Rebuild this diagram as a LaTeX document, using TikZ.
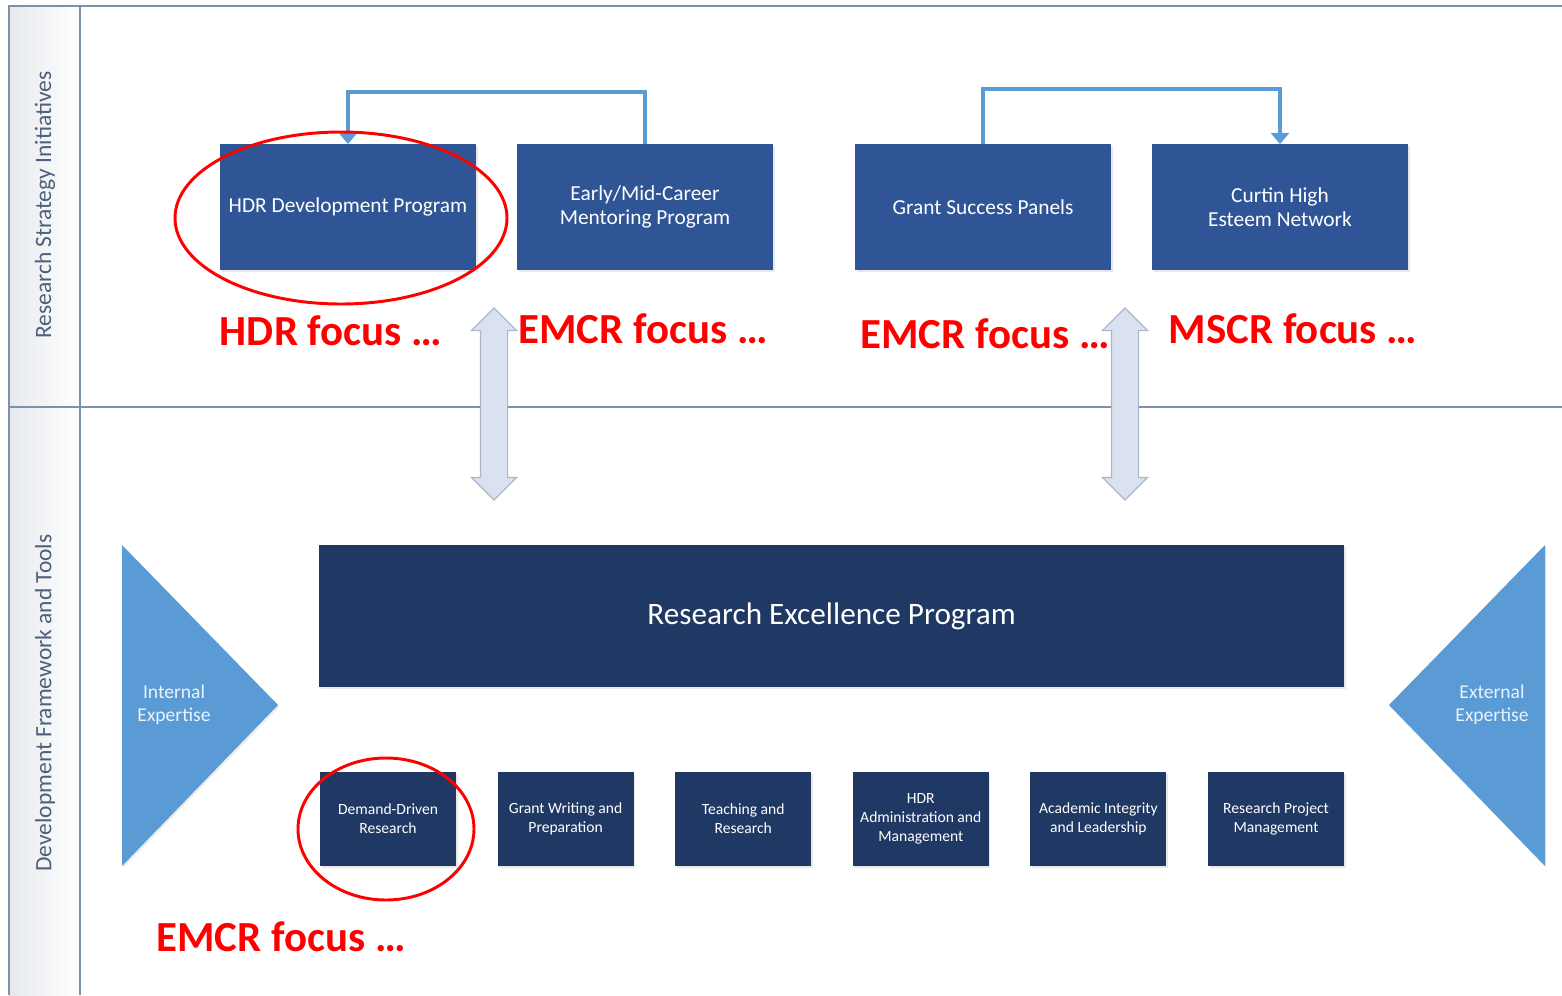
\documentclass[tikz,border=0pt]{standalone}
\usepackage{fontspec}
\setmainfont{Carlito}
\usepackage{xcolor}
\usepackage{tikz}
\usetikzlibrary{positioning,arrows.meta,shapes.arrows,shadows}

\definecolor{initblue}{RGB}{47,85,151}
\definecolor{navy}{RGB}{32,56,100}
\definecolor{skyblue}{RGB}{91,155,213}
\definecolor{laneline}{RGB}{125,145,170}
\definecolor{lanetext}{RGB}{78,96,124}
\definecolor{arrowfill}{RGB}{218,226,241}
\definecolor{arrowedge}{RGB}{172,182,202}

\begin{document}
\begin{tikzpicture}[
    initbox/.style ={fill=initblue, text=white, align=center, outer sep=0pt,
                     minimum width=6.4cm, minimum height=3.15cm, inner sep=2pt,
                     font=\fontsize{15.2}{17.5}\selectfont,
                     drop shadow={shadow xshift=0.04cm, shadow yshift=-0.06cm, opacity=0.18}},
    toolbox/.style ={fill=navy, text=white, align=center, outer sep=0pt,
                     minimum width=3.4cm, minimum height=2.35cm, inner sep=2pt,
                     font=\fontsize{11.1}{13.6}\selectfont,
                     drop shadow={shadow xshift=0.04cm, shadow yshift=-0.06cm, opacity=0.18}},
    lanetitle/.style={rotate=90, text=lanetext, font=\fontsize{16.7}{19}\selectfont},
    focus/.style   ={text=red, font=\fontsize{30.5}{34}\selectfont\bfseries},
    ring/.style    ={draw=red, line width=2.1pt},
    conn/.style    ={draw=skyblue, line width=2.8pt,
                     -{Triangle[width=13pt,length=8pt]}},
    updown/.style  ={double arrow, rotate=90, fill=arrowfill, draw=arrowedge,
                     line width=0.8pt, minimum height=4.8cm,
                     inner xsep=0pt, inner ysep=0.325cm,
                     double arrow head extend=0.225cm},
    wedge/.style   ={fill=skyblue, drop shadow={shadow xshift=0.03cm, shadow yshift=-0.05cm, opacity=0.15}},
    wedgetext/.style={text=white!88!skyblue, align=center,
                     font=\fontsize{13.9}{16.4}\selectfont}
]
\useasboundingbox (0,0) rectangle (39.05,-24.875);

% --- swim lanes ---
\shade[left color=lanetext!14, right color=white] (0.225,-0.15) rectangle (2.0,-24.875);
\draw[laneline, line width=0.9pt] (39.05,-0.15) -- (0.225,-0.15) -- (0.225,-24.875);
\draw[laneline, line width=0.9pt] (2.0,-0.15) -- (2.0,-24.875);
\draw[laneline, line width=0.9pt] (0.225,-10.175) -- (39.05,-10.175);
\node[lanetitle] (strat) at (1.125,-5.125) {Research Strategy Initiatives};
\node[lanetitle] (tools) at (1.125,-17.575) {Development Framework and Tools};

% --- top lane: initiatives ---
\node[initbox] (hdr) at (8.7,-5.175) {HDR Development Program};
\node[initbox, right=1.025cm of hdr] (emcr) {Early/Mid-Career\\Mentoring Program};
\node[initbox, right=2.05cm of emcr] (grant) {Grant Success Panels};
\node[initbox, right=1.025cm of grant] (curtin) {Curtin High\\Esteem Network};

\draw[conn] (emcr.north) -- ++(0,1.3) -| (hdr.north);
\draw[conn] (grant.north) -- ++(0,1.375) -| (curtin.north);

% --- links between the lanes ---
\node[updown] (linkl) at (12.35,-10.1) {};
\node[updown] (linkr) at (28.125,-10.1) {};

% --- bottom lane: framework ---
\node[fill=navy, text=white, minimum width=25.625cm, minimum height=3.55cm,
      font=\fontsize{22.2}{26}\selectfont,
      drop shadow={shadow xshift=0.04cm, shadow yshift=-0.06cm, opacity=0.18}]
      (rep) at (20.79,-15.4) {Research Excellence Program};

\node[toolbox] (demand) at (9.7,-20.475) {Demand-Driven\\Research};
\node[toolbox, right=1.04cm of demand] (writing) {Grant Writing and\\Preparation};
\node[toolbox, right=1.04cm of writing] (teaching) {Teaching and\\Research};
\node[toolbox, right=1.04cm of teaching] (admin) {HDR\\Administration and\\Management};
\node[toolbox, right=1.04cm of admin] (integrity) {Academic Integrity\\and Leadership};
\node[toolbox, right=1.04cm of integrity] (project) {Research Project\\Management};

% --- expertise wedges ---
\fill[wedge] (3.05,-13.625) -- (6.95,-17.625) -- (3.05,-21.65) -- cycle;
\fill[wedge] (38.625,-13.625) -- (34.725,-17.625) -- (38.625,-21.65) -- cycle;
\node[wedgetext] (internal) at (4.35,-17.625) {Internal\\Expertise};
\node[wedgetext] (external) at (37.3,-17.625) {External\\Expertise};

% --- focus notes ---
\draw[ring] (8.525,-5.45) ellipse [x radius=4.15cm, y radius=2.15cm];
\draw[ring] (9.65,-20.725) ellipse [x radius=2.2cm, y radius=1.775cm];
\node[focus] (fhdr)  at (8.275,-8.275)  {HDR focus …};
\node[focus] (femcr) at (16.075,-8.225) {EMCR focus …};
\node[focus] (fgrant) at (24.625,-8.35) {EMCR focus …};
\node[focus] (fmscr) at (32.325,-8.225) {MSCR focus …};
\node[focus] (fdemand) at (7.025,-23.425) {EMCR focus …};

\end{tikzpicture}
\end{document}
